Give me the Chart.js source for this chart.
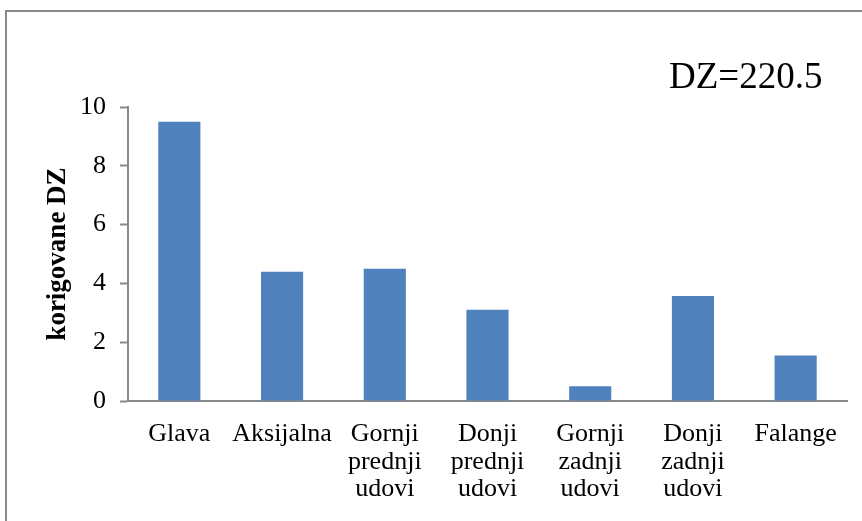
<!DOCTYPE html>
<html>
<head>
<meta charset="utf-8">
<script src="https://cdn.jsdelivr.net/npm/chart.js@4"></script>
<style>
  html, body { margin: 0; padding: 0; background: #fff; }
  #wrap { width: 862px; height: 521px; position: relative; }
</style>
</head>
<body>
<div id="wrap"><canvas id="chart"></canvas></div>
<script>
const categories = [
    'Glava',
    'Aksijalna',
    ['Gornji', 'prednji', 'udovi'],
    ['Donji', 'prednji', 'udovi'],
    ['Gornji', 'zadnji', 'udovi'],
    ['Donji', 'zadnji', 'udovi'],
    'Falange'
];
const values = [9.5, 4.4, 4.5, 3.1, 0.5, 3.57, 1.55];
const yTicks = [0, 2, 4, 6, 8, 10];
const yTitle = 'korigovane DZ';
const note = 'DZ=220.5';

const serif = 'Liberation Serif';
const axisGray = '#898989';

// frame round the chart and the DZ note
const extras = {
    id: 'extras',
    beforeDraw(chart) {
        const ctx = chart.ctx;
        ctx.save();
        ctx.strokeStyle = axisGray;
        ctx.lineWidth = 2;
        ctx.beginPath();
        ctx.moveTo(6, 530);
        ctx.lineTo(6, 11);
        ctx.lineTo(870, 11);
        ctx.stroke();
        ctx.restore();
    },
    afterDraw(chart) {
        const ctx = chart.ctx;
        ctx.save();
        ctx.font = '37px "' + serif + '"';
        ctx.fillStyle = '#000';
        ctx.textAlign = 'left';
        ctx.textBaseline = 'alphabetic';
        ctx.fillText(note, 669, 88);
        ctx.restore();
    }
};

new Chart(document.getElementById('chart'), {
    type: 'bar',
    data: {
        labels: categories,
        datasets: [{
            data: values,
            backgroundColor: '#4F81BD',
            borderWidth: 0,
            categoryPercentage: 1,
            barPercentage: 0.41
        }]
    },
    options: {
        responsive: true,
        maintainAspectRatio: false,
        animation: false,
        layout: { padding: { left: 0, right: 15, top: 107, bottom: 0 } },
        plugins: {
            legend: { display: false },
            tooltip: { enabled: false }
        },
        scales: {
            x: {
                grid: { display: true, drawOnChartArea: false, drawTicks: false },
                border: { color: axisGray, width: 2 },
                ticks: {
                    color: '#000',
                    font: { family: serif, size: 26, lineHeight: 1.07 },
                    padding: 19,
                    maxRotation: 0,
                    autoSkip: false
                },
                afterFit: (scale) => { scale.height = 120; }
            },
            y: {
                min: 0,
                max: 10,
                afterBuildTicks: (scale) => { scale.ticks = yTicks.map(v => ({ value: v })); },
                grid: { display: true, drawOnChartArea: false, tickLength: 8, tickColor: axisGray, tickWidth: 2 },
                border: { color: axisGray, width: 2 },
                ticks: {
                    color: '#000',
                    font: { family: serif, size: 26 },
                    padding: 14
                },
                title: {
                    display: true,
                    text: yTitle,
                    color: '#000',
                    font: { family: serif, size: 27, weight: 'bold' },
                    padding: { top: 42, bottom: 0 }
                },
                afterFit: (scale) => { scale.width = 128; }
            }
        }
    },
    plugins: [extras]
});
</script>
</body>
</html>
